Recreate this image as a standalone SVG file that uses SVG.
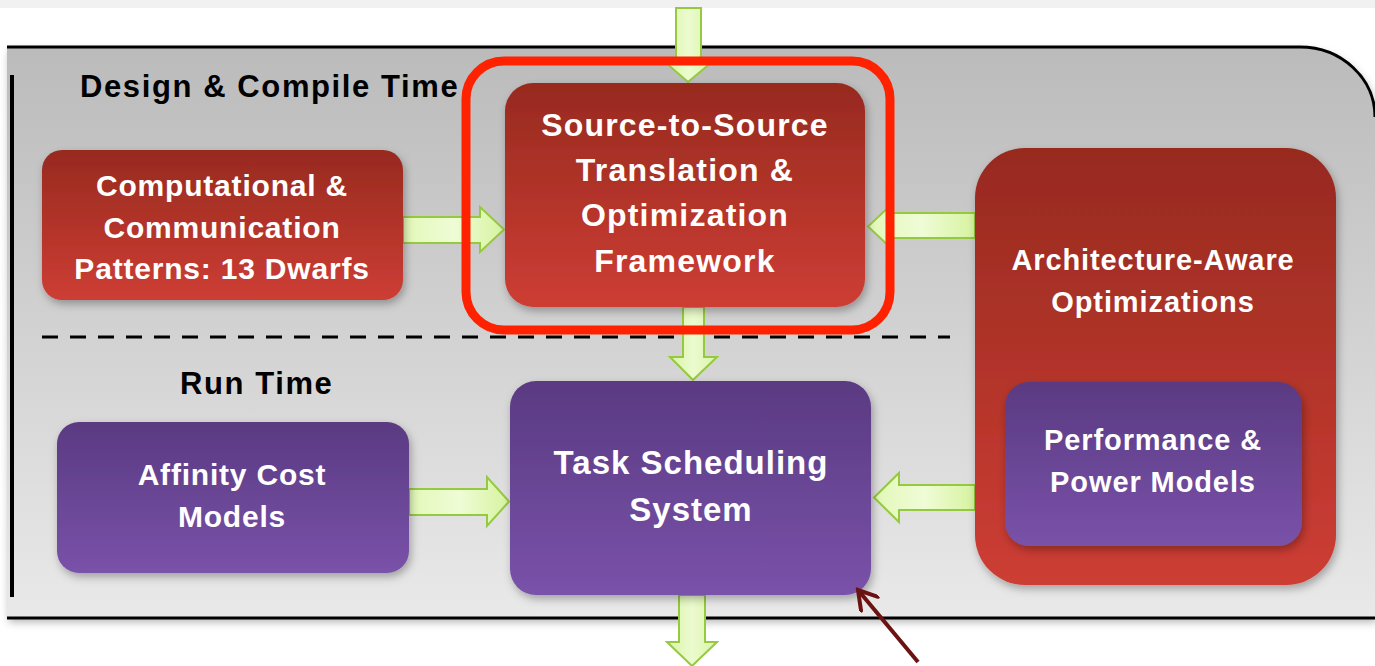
<svg xmlns="http://www.w3.org/2000/svg" width="1375" height="666" viewBox="0 0 1375 666">
<defs>
<linearGradient id="panel" x1="0" y1="0" x2="0" y2="1"><stop offset="0" stop-color="#bbbbbb"/><stop offset="1" stop-color="#e9e9e9"/></linearGradient>
<linearGradient id="red" x1="0" y1="0" x2="0" y2="1"><stop offset="0" stop-color="#972a1f"/><stop offset="1" stop-color="#cd3d34"/></linearGradient>
<linearGradient id="purple" x1="0" y1="0" x2="0" y2="1"><stop offset="0" stop-color="#5a3a82"/><stop offset="1" stop-color="#7952a9"/></linearGradient>
<linearGradient id="arrH" x1="0" y1="0" x2="1" y2="0"><stop offset="0" stop-color="#e2f8b8"/><stop offset="0.5" stop-color="#effcd6"/><stop offset="1" stop-color="#d6f3a0"/></linearGradient>
<linearGradient id="arrV" x1="0" y1="0" x2="1" y2="0"><stop offset="0" stop-color="#d8f4a6"/><stop offset="0.5" stop-color="#ecfbcf"/><stop offset="1" stop-color="#d8f4a6"/></linearGradient>
<filter id="sh" x="-10%" y="-10%" width="130%" height="130%"><feDropShadow dx="2" dy="4" stdDeviation="4" flood-color="#000" flood-opacity="0.3"/></filter>
<marker id="dr" viewBox="0 0 24 24" refX="21" refY="12" markerWidth="24" markerHeight="24" orient="auto" markerUnits="userSpaceOnUse"><path d="M3,1 L21,12 L3,23" fill="none" stroke="#6b1212" stroke-width="4" stroke-linecap="round"/></marker>
<style>
.t{font-family:"Liberation Sans",Arial,sans-serif;font-weight:bold;fill:#fff;text-anchor:middle;font-size:30px;letter-spacing:0.8px}
.tl{font-family:"Liberation Sans",Arial,sans-serif;font-weight:bold;fill:#fff;text-anchor:middle;font-size:32px;letter-spacing:1.2px}
.h{font-family:"Liberation Sans",Arial,sans-serif;font-weight:bold;fill:#000;font-size:31px;letter-spacing:1.6px}
.ar{stroke:#95c940;stroke-width:2;stroke-linejoin:miter}
</style>
</defs>
<rect width="1375" height="666" fill="#fff"/>
<rect x="0" y="0" width="1375" height="8" fill="#f1f1f1"/>
<g id="panel-bg">
<path d="M7,47 H1300 A75,70 0 0 1 1375,117 V618 H7 Z" fill="url(#panel)" filter="url(#sh)"/>
<path d="M7,47 H1300 A75,70 0 0 1 1375,117" fill="none" stroke="#000" stroke-width="3"/>
<line x1="7" y1="618" x2="1375" y2="618" stroke="#000" stroke-width="3"/>
<line x1="12" y1="75" x2="12" y2="597" stroke="#000" stroke-width="4"/>
<line x1="42" y1="337" x2="950" y2="337" stroke="#000" stroke-width="3" stroke-dasharray="16,12"/>
<text class="h" x="80" y="97">Design &amp; Compile Time</text>
<text class="h" x="180" y="394">Run Time</text>
</g>
<g id="connectors">
<path class="ar" fill="url(#arrV)" d="M676,8 H701 V62 H712 L688,82 L665,62 H676 Z"/>
<path class="ar" fill="url(#arrH)" d="M403,217 H480 V207 L504,229.5 L480,252 V243 H403 Z"/>
<path class="ar" fill="url(#arrH)" d="M975,213 H893 V203 L868,226.5 L893,250 V238 H975 Z"/>
<path class="ar" fill="url(#arrV)" d="M683,307 H704 V357 H717 L693,380 L670,357 H683 Z"/>
<path class="ar" fill="url(#arrH)" d="M409,489 H487 V477 L509,501.5 L487,526 V515 H409 Z"/>
<path class="ar" fill="url(#arrH)" d="M975,485 H899 V473 L874,497.5 L899,522 V510 H975 Z"/>
<path class="ar" fill="url(#arrV)" d="M679,595 H705 V642 H717 L692,666 L667,642 H679 Z"/>
</g>
<g id="computational">
<rect x="42" y="150" width="361" height="150" rx="20" fill="url(#red)" filter="url(#sh)"/>
<text class="t" x="222" y="196">Computational &amp;</text>
<text class="t" x="222" y="238">Communication</text>
<text class="t" x="222" y="279">Patterns: 13 Dwarfs</text>
</g>
<g id="source">
<rect x="505" y="83" width="360" height="224" rx="28" fill="url(#red)" filter="url(#sh)"/>
<text class="tl" x="685" y="136">Source-to-Source</text>
<text class="tl" x="685" y="181">Translation &amp;</text>
<text class="tl" x="685" y="226">Optimization</text>
<text class="tl" x="685" y="272">Framework</text>
</g>
<g id="highlight">
<rect x="466" y="61" width="424" height="269" rx="38" fill="none" stroke="#ff2200" stroke-width="9"/>
</g>
<g id="architecture">
<rect x="975" y="148" width="361" height="437" rx="50" fill="url(#red)" filter="url(#sh)"/>
<text class="t" x="1153" y="270" style="font-size:29px;letter-spacing:0.9px">Architecture-Aware</text>
<text class="t" x="1153" y="312" style="font-size:29px;letter-spacing:0.9px">Optimizations</text>
</g>
<g id="performance">
<rect x="1005" y="382" width="297" height="164" rx="24" fill="url(#purple)" filter="url(#sh)"/>
<text class="t" x="1153" y="450" style="font-size:29px;letter-spacing:0.9px">Performance &amp;</text>
<text class="t" x="1153" y="492" style="font-size:29px;letter-spacing:0.9px">Power Models</text>
</g>
<g id="affinity">
<rect x="57" y="422" width="352" height="151" rx="22" fill="url(#purple)" filter="url(#sh)"/>
<text class="t" x="232" y="485">Affinity Cost</text>
<text class="t" x="232" y="527">Models</text>
</g>
<g id="task">
<rect x="510" y="381" width="361" height="214" rx="26" fill="url(#purple)" filter="url(#sh)"/>
<text class="tl" x="691" y="474" style="font-size:33px;letter-spacing:1px">Task Scheduling</text>
<text class="tl" x="691" y="521" style="font-size:33px;letter-spacing:1px">System</text>
</g>
<g id="annotation">
<line x1="918" y1="662" x2="858" y2="590" stroke="#6b1212" stroke-width="4" marker-end="url(#dr)"/>
</g>
</svg>
